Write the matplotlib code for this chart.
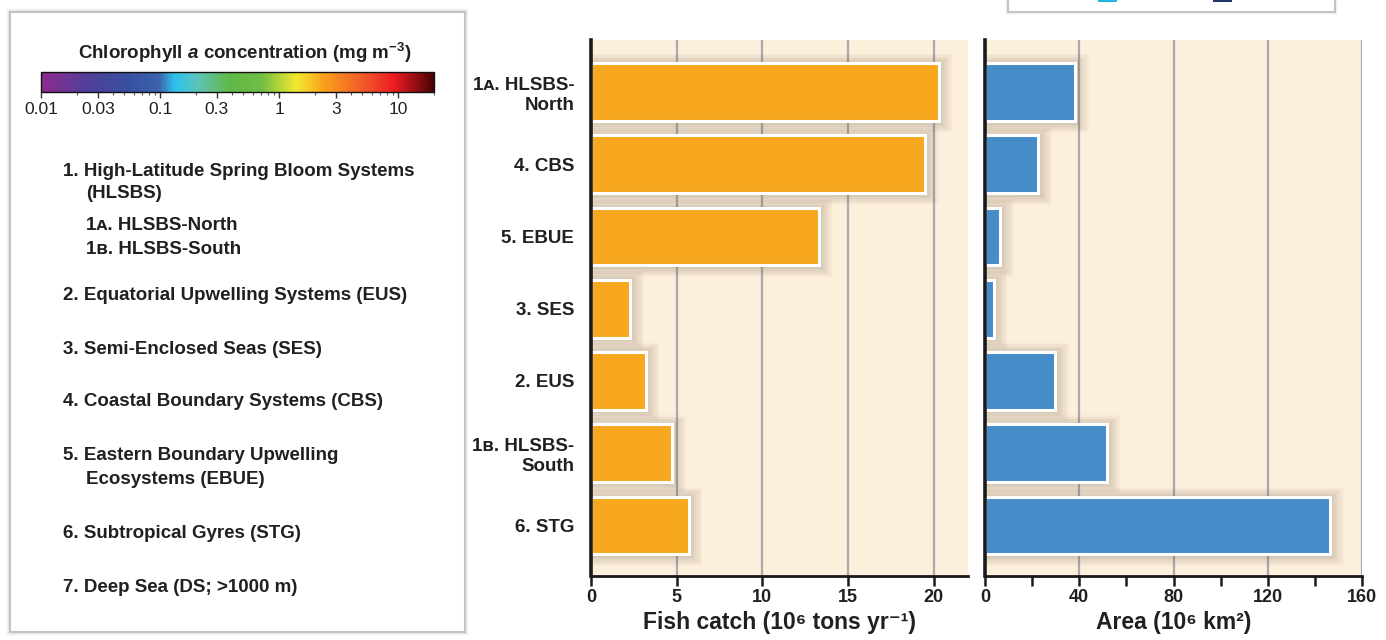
import numpy as np
import matplotlib
matplotlib.use("Agg")
import matplotlib.pyplot as plt
from matplotlib.colors import LinearSegmentedColormap, LogNorm
from matplotlib.cm import ScalarMappable
from matplotlib.patches import Rectangle
from matplotlib.ticker import FixedLocator, MultipleLocator, NullFormatter

# ---------------- data ----------------
categories = ["1\u1d00. HLSBS-\nNorth", "4. CBS", "5. EBUE", "3. SES",
              "2. EUS", "1\u0299. HLSBS-\nSouth", "6. STG"]
fish_catch = [20.3, 19.5, 13.3, 2.3, 3.2, 4.75, 5.7]      # 10^6 tons/yr
area = [38.2, 22.7, 6.5, 3.7, 29.7, 51.7, 146.4]           # 10^6 km^2

chl_ticks = [0.01, 0.03, 0.1, 0.3, 1, 3, 10]
chl_tick_labels = ["0.01", "0.03", "0.1", "0.3", "1", "3", "10"]
chl_range = (0.01, 20)

legend_lines = [
    "1. High-Latitude Spring Bloom Systems",
    "(HLSBS)",
    "1\u1d00. HLSBS-North",
    "1\u0299. HLSBS-South",
    "2. Equatorial Upwelling Systems (EUS)",
    "3. Semi-Enclosed Seas (SES)",
    "4. Coastal Boundary Systems (CBS)",
    "5. Eastern Boundary Upwelling",
    "Ecosystems (EBUE)",
    "6. Subtropical Gyres (STG)",
    "7. Deep Sea (DS; >1000 m)",
]

# ---------------- style ----------------
FONT = ["Liberation Sans Narrow", "Liberation Sans", "DejaVu Sans"]
plt.rcParams["font.family"] = FONT
plt.rcParams["mathtext.fontset"] = "custom"
plt.rcParams["mathtext.rm"] = "Liberation Sans:bold"
plt.rcParams["mathtext.it"] = "Liberation Sans:italic:bold"
plt.rcParams["mathtext.bf"] = "Liberation Sans:bold"

TXT = "#231f20"
ORANGE = "#F7A81E"
BLUE = "#458CC8"
BG = "#FCEFDC"
GRID = "#A9A9AE"

W, H = 1386, 640
fig = plt.figure(figsize=(W / 100, H / 100), dpi=100)
fig.patch.set_facecolor("white")


def fx(px):
    return px / W


def fy(py):
    return 1 - py / H


# ---------- left info panel ----------
for k, a in enumerate([0.05, 0.04, 0.03, 0.02]):
    g = k + 1
    fig.patches.append(Rectangle((fx(10 - g), fy(632 + g)), fx(455 + 2 * g), (620 + 2 * g) / H,
                                 transform=fig.transFigure, facecolor="#000000",
                                 edgecolor="none", alpha=a, zorder=0))
fig.patches.append(Rectangle((fx(10), fy(632)), fx(455), 620 / H,
                             transform=fig.transFigure, facecolor="white",
                             edgecolor="#c4c4c4", linewidth=1.5, zorder=1))

# clipped legend box at top right
for k, a in enumerate([0.05, 0.035, 0.02]):
    g = k + 1
    fig.patches.append(Rectangle((fx(1008 - g), fy(12 + g)), fx(327 + 2 * g), (12 + 2 * g) / H + 0.05,
                                 transform=fig.transFigure, facecolor="#000000",
                                 edgecolor="none", alpha=a, zorder=0))
fig.patches.append(Rectangle((fx(1008), fy(12)), fx(327), 12 / H + 0.05,
                             transform=fig.transFigure, facecolor="white",
                             edgecolor="#c4c4c4", linewidth=1.5, zorder=1))
fig.patches.append(Rectangle((fx(1098), fy(2)), fx(19), 4 / H, transform=fig.transFigure,
                             facecolor="#1fb4e6", edgecolor="none", zorder=2))
fig.patches.append(Rectangle((fx(1213), fy(2)), fx(19), 4 / H, transform=fig.transFigure,
                             facecolor="#1d3866", edgecolor="none", zorder=2))

# colour bar
cmap = LinearSegmentedColormap.from_list("chl", [
    (0.00, "#8e2a8e"), (0.12, "#4f3f9a"), (0.22, "#37509f"), (0.30, "#3d63ad"),
    (0.34, "#2bc3ef"), (0.40, "#5fc3b7"), (0.48, "#60b947"), (0.56, "#70bd45"),
    (0.65, "#f1e92f"), (0.72, "#f9a11b"), (0.82, "#f05a28"), (0.90, "#ec1c24"),
    (1.00, "#4a0204")])
cax = fig.add_axes([fx(41), fy(92), fx(393), 20 / H])
cax.set_zorder(5)
sm = ScalarMappable(norm=LogNorm(*chl_range), cmap=cmap)
cb = fig.colorbar(sm, cax=cax, orientation="horizontal")
cb.outline.set_linewidth(1.0)
cb.outline.set_edgecolor("#111111")
cax.xaxis.set_major_locator(FixedLocator(chl_ticks))
cax.set_xticklabels(chl_tick_labels)
cax.tick_params(axis="x", which="major", length=4, width=1, color="#333333",
                labelsize=12.5, labelcolor=TXT, pad=3)
cax.tick_params(axis="x", which="minor", length=2.5, width=0.8, color="#555555")
cax.xaxis.set_minor_formatter(NullFormatter())
fig.text(fx(245), fy(53), r"Chlorophyll $\mathit{a}$ concentration (mg m$^{\mathregular{-3}}$)",
         ha="center", va="center", fontsize=13.5, fontweight="bold", color=TXT, zorder=5)

legend_pos = [(63, 171), (86, 193), (86, 225), (86, 249), (63, 296), (63, 349),
              (63, 402), (63, 456), (86, 479), (63, 533), (63, 587)]
for s, (x, y) in zip(legend_lines, legend_pos):
    fig.text(fx(x), fy(y), s, ha="left", va="center", fontsize=13.5,
             fontweight="bold", color=TXT, zorder=5)

# ---------- bar charts ----------
ax1 = fig.add_axes([fx(591), fy(576), fx(377), 536 / H])
ax2 = fig.add_axes([fx(985), fy(576), fx(377), 536 / H])

y = np.arange(len(categories))


def draw(ax, vals, color, xmax, major, minor=None):
    ax.set_facecolor(BG)
    ax.set_xlim(0, xmax)
    ax.set_ylim(len(categories) - 0.3, -0.72)
    ax.xaxis.set_major_locator(MultipleLocator(major))
    if minor:
        ax.xaxis.set_minor_locator(MultipleLocator(minor))
    ax.grid(axis="x", color=GRID, linewidth=1.6, zorder=0)
    ax.set_axisbelow(True)
    # soft drop shadows
    for k in range(8):
        ax.barh(y + 0.015, np.asarray(vals) + xmax * 0.0045 * (k + 1), height=0.8 + 0.035 * (k + 1),
                color="#6b5a40", alpha=0.035, linewidth=0, zorder=1)
    ax.barh(y, vals, height=0.8, color=color, edgecolor="white", linewidth=2.2, zorder=3)
    for s in ["top", "right"]:
        ax.spines[s].set_visible(False)
    ax.spines["left"].set_linewidth(2.6)
    ax.spines["left"].set_color("#1a1a1a")
    ax.spines["bottom"].set_linewidth(2.0)
    ax.spines["bottom"].set_color("#1a1a1a")
    ax.spines["left"].set_zorder(5)
    ax.tick_params(axis="x", which="both", direction="out", length=7, width=1.8,
                   color="#1a1a1a", labelsize=13, labelcolor=TXT, pad=2)
    for lab in ax.get_xticklabels():
        lab.set_fontweight("bold")


draw(ax1, fish_catch, ORANGE, 22, 5)
draw(ax2, area, BLUE, 160, 40, 20)

ax1.set_yticks(y)
ax1.set_yticklabels(categories, fontsize=13.5, fontweight="bold", color=TXT, linespacing=1.25)
ax1.tick_params(axis="y", length=0, pad=12)
ax2.set_yticks([])

ax1.set_xlabel("Fish catch (10\u2076 tons yr\u207b\u00b9)",
               fontsize=16.5, fontweight="bold", color=TXT, labelpad=4)
ax2.set_xlabel("Area (10\u2076 km\u00b2)",
               fontsize=16.5, fontweight="bold", color=TXT, labelpad=4)

fig.savefig("out.png", dpi=100, facecolor="white")
